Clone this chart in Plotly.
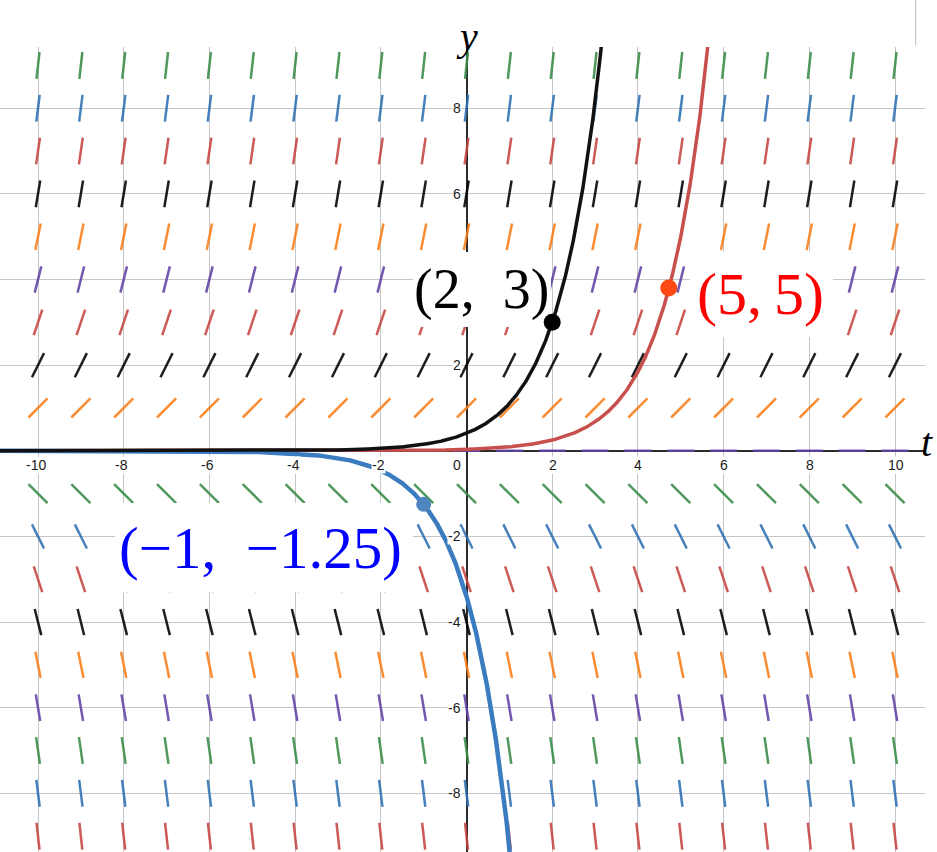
import numpy as np
import plotly.graph_objects as go

# ---------------- data ----------------
T_GRID = list(range(-10, 11))
Y_GRID = [9, 8, 7, 6, 5, 4, 3, 2, 1, 0, -1, -2, -3, -4, -5, -6, -7, -8, -9]
ROW_COLOR_NAMES = ["green", "blue", "red", "black", "orange", "purple", "red", "black",
                   "orange", "purple", "green", "blue", "red", "black", "orange", "purple",
                   "green", "blue", "red"]
PALETTE = {"red": "#c74440", "blue": "#2d70b3", "green": "#388c46",
           "purple": "#6042a6", "orange": "#fa7e19", "black": "#000000"}

# solution curves of dy/dt = y through initial points
CURVE_T0 = [5.0, -1.0, 2.0]
CURVE_Y0 = [5.0, -1.25, 3.0]
CURVE_COLORS = ["#c8504c", "#3b7bbf", "#111111"]
CURVE_WIDTHS = [3.5, 4.5, 3.5]

DOT_T = [2.0, 4.72, -1.0]
DOT_Y = [3.0, 3.8, -1.25]
DOT_COLORS = ["#000000", "#ff4a14", "#4f86bf"]
DOT_SIZES = [17, 17, 15]

LABEL_TEXT = ["(2,\u20023)", "(5,\u20095)", "(\u22121,\u2002\u22121.25)"]
LABEL_COLORS = ["#000000", "#ff0000", "#0000ff"]
LABEL_SIZES = [56, 60, 59]

XTICKS = [-10, -8, -6, -4, -2, 2, 4, 6, 8, 10]
YTICKS = [8, 6, 2, -2, -4, -6, -8]   # "4" is hidden behind the (2, 3) label

# ---------------- layout constants ----------------
X_RANGE = [-10.887, 10.70]
Y_RANGE = [-9.37, 9.43]
SEG_HALF = 0.315
LABEL_POS = [(0.36, 3.77), (6.85, 3.65), (-4.80, -2.26)]
# white label backgrounds: (center t, center y, width, height) in axis units
LABEL_BOX = [(0.36, 3.768, 3.22, 1.75), (6.884, 3.651, 3.34, 1.99), (-4.726, -2.259, 6.95, 2.08)]

# ---------------- figure ----------------
fig = go.Figure()

groups = {}
for yv, cname in zip(Y_GRID, ROW_COLOR_NAMES):
    for tv in T_GRID:
        m = yv  # slope dy/dt = y
        dt = SEG_HALF / np.sqrt(1 + m * m)
        dy = m * dt
        gx, gy = groups.setdefault(cname, ([], []))
        gx += [tv - dt, tv + dt, None]
        gy += [yv - dy, yv + dy, None]

for cname, (gx, gy) in groups.items():
    fig.add_trace(go.Scatter(x=gx, y=gy, mode="lines",
                             line=dict(color=PALETTE[cname], width=2.5),
                             opacity=0.88, hoverinfo="skip"))

# white label backgrounds (below curves and points, above the slope field and grid)
for cx, cy, w, h in LABEL_BOX:
    fig.add_trace(go.Scatter(x=[cx - w / 2, cx + w / 2, cx + w / 2, cx - w / 2, cx - w / 2],
                             y=[cy - h / 2, cy - h / 2, cy + h / 2, cy + h / 2, cy - h / 2],
                             mode="lines", fill="toself", fillcolor="white",
                             line=dict(color="white", width=0), hoverinfo="skip"))

for t0, y0, col, w in zip(CURVE_T0, CURVE_Y0, CURVE_COLORS, CURVE_WIDTHS):
    t = np.linspace(X_RANGE[0] - 0.2, X_RANGE[1] + 0.2, 4000)
    y = y0 * np.exp(t - t0)
    y = np.where(np.abs(y) > 12, np.nan, y)
    fig.add_trace(go.Scatter(x=t, y=y, mode="lines",
                             line=dict(color=col, width=w), hoverinfo="skip"))

fig.add_trace(go.Scatter(x=DOT_T, y=DOT_Y, mode="markers",
                         marker=dict(color=DOT_COLORS, size=DOT_SIZES, opacity=1,
                                     line=dict(width=0)),
                         hoverinfo="skip"))

annotations = []
tick_font = dict(family="Liberation Sans, Arial", size=14, color="#1a1a1a")
for v in XTICKS:
    annotations.append(dict(x=v, y=0, xref="x", yref="y", text=str(v), showarrow=False,
                            font=tick_font, bgcolor="white", borderpad=0,
                            xanchor="center", yanchor="middle",
                            xshift=(-2 if v < 0 else 0.5), yshift=-14))
for v in YTICKS:
    annotations.append(dict(x=0, y=v, xref="x", yref="y", text=str(v), showarrow=False,
                            font=tick_font, bgcolor="white", borderpad=0,
                            xanchor="right", yanchor="middle", xshift=-4.5))
annotations.append(dict(x=0, y=0, xref="x", yref="y", text="0", showarrow=False,
                        font=tick_font, bgcolor="white", borderpad=0,
                        xanchor="right", yanchor="middle", xshift=-4.5, yshift=-14))

for txt, (tx, ty), col, sz in zip(LABEL_TEXT, LABEL_POS, LABEL_COLORS, LABEL_SIZES):
    annotations.append(dict(x=tx, y=ty, xref="x", yref="y", text=txt, showarrow=False,
                            font=dict(family="Liberation Serif", size=sz, color=col),
                            borderpad=0, xanchor="center", yanchor="middle"))

annotations.append(dict(x=0, y=1, xref="x", yref="paper", text="<i>y</i>", showarrow=False,
                        font=dict(family="Liberation Serif", size=40, color="#000"),
                        xanchor="center", yanchor="middle", yshift=10.7))
annotations.append(dict(x=1, y=0, xref="paper", yref="y", text="<i>t</i>", showarrow=False,
                        font=dict(family="Liberation Serif", size=40, color="#000"),
                        xanchor="center", yanchor="middle", xshift=2, yshift=7.8))

axis_common = dict(showgrid=True, gridcolor="#c6c6c6", gridwidth=1, dtick=2, tick0=0,
                   zeroline=True, zerolinecolor="#2b2b2b", zerolinewidth=2,
                   showticklabels=False, ticks="", showline=False, fixedrange=True)

fig.update_layout(
    width=937, height=852,
    margin=dict(l=0, r=12, t=47, b=0, pad=0, autoexpand=False),
    plot_bgcolor="white", paper_bgcolor="white",
    showlegend=False,
    xaxis=dict(range=X_RANGE, **axis_common),
    yaxis=dict(range=Y_RANGE, **axis_common),
    annotations=annotations,
    shapes=[dict(type="line", xref="paper", yref="paper",
                 x0=915.7 / 925, x1=915.7 / 925, y0=(852 - 45) / 805, y1=852 / 805,
                 line=dict(color="#bdbdbd", width=1))],
)

fig.write_html("out.html", config={"displayModeBar": False},
               post_script="document.body.style.margin='0px';")
